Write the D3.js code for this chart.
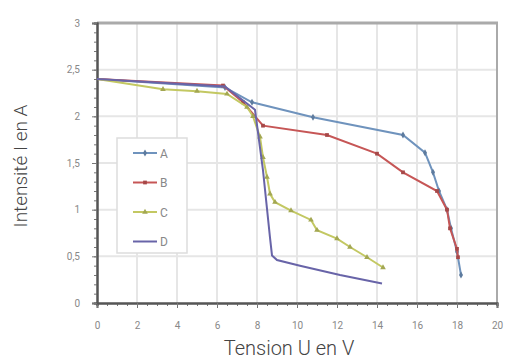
<!DOCTYPE html>
<html>
<head>
  <title>Caractéristiques I(U)</title>
  <style>
    body { margin: 0; background: #fff; }
    svg text { font-family: Roboto, "Liberation Sans", sans-serif; }
  </style>
</head>
<body>
<svg width="508" height="363" class="svg-chart"></svg>
<script src="https://cdnjs.cloudflare.com/ajax/libs/d3/7.8.5/d3.min.js"></script>
<script type="text/javascript">
  // values (U in V, I in A)
  var seriesNames = ['A', 'B', 'C', 'D']
  var colors = ['#6f93bd', '#c65656', '#c3c862', '#6864a8']

  var uA = [0, 6.4, 7.75, 10.8, 15.3, 16.4, 16.8, 17.1, 17.5, 17.7, 18.0, 18.2]
  var iA = [2.4, 2.31, 2.15, 1.99, 1.8, 1.61, 1.4, 1.2, 1.0, 0.8, 0.55, 0.3]

  var uB = [0, 6.3, 7.3, 8.3, 11.5, 14.0, 15.3, 17.0, 17.5, 17.65, 18.0, 18.05]
  var iB = [2.4, 2.33, 2.15, 1.9, 1.8, 1.6, 1.4, 1.2, 1.0, 0.8, 0.58, 0.49]

  var uC = [0, 3.3, 5.0, 6.5, 7.5, 7.8, 8.15, 8.3, 8.5, 8.65, 8.9, 9.7, 10.7, 11.0, 12.0, 12.65, 13.5, 14.3]
  var iC = [2.4, 2.29, 2.27, 2.24, 2.1, 2.0, 1.78, 1.56, 1.35, 1.17, 1.08, 0.99, 0.89, 0.78, 0.69, 0.6, 0.49, 0.38]

  var uD = [0, 6.4, 7.9, 8.3, 8.65, 8.75, 9.0, 10.15, 12.15, 14.25]
  var iD = [2.4, 2.32, 2.07, 1.42, 0.7, 0.51, 0.46, 0.4, 0.3, 0.21]

  var xTicks = [0, 2, 4, 6, 8, 10, 12, 14, 16, 18, 20]
  var yTicks = [0, 0.5, 1, 1.5, 2, 2.5, 3]

  var series = [
    {name: seriesNames[0], u: uA, i: iA, marker: 'diamond'},
    {name: seriesNames[1], u: uB, i: iB, marker: 'square'},
    {name: seriesNames[2], u: uC, i: iC, marker: 'triangle'},
    {name: seriesNames[3], u: uD, i: iD, marker: null}
  ]

  var svg = d3.select('.svg-chart')
  var plotLeft = 97, plotRight = 497, plotTop = 23, plotBottom = 303

  var x = d3.scaleLinear().domain([0, 20]).range([plotLeft, plotRight])
  var y = d3.scaleLinear().domain([0, 3]).range([plotBottom, plotTop])

  // grid
  svg.append('g').selectAll('line').data(xTicks.slice(1))
    .enter().append('line')
    .attr('x1', function(d){ return x(d) }).attr('x2', function(d){ return x(d) })
    .attr('y1', plotTop).attr('y2', plotBottom)
    .attr('stroke', '#e6e6e6').attr('stroke-width', 2)
  svg.append('g').selectAll('line').data(yTicks.slice(1))
    .enter().append('line')
    .attr('y1', function(d){ return y(d) }).attr('y2', function(d){ return y(d) })
    .attr('x1', plotLeft).attr('x2', plotRight)
    .attr('stroke', '#e6e6e6').attr('stroke-width', 2)

  // frame top / right
  svg.append('line').attr('x1', plotLeft).attr('x2', plotRight + 1).attr('y1', plotTop).attr('y2', plotTop)
    .attr('stroke', '#aaa').attr('stroke-width', 3)
  svg.append('line').attr('x1', plotRight).attr('x2', plotRight).attr('y1', plotTop).attr('y2', plotBottom)
    .attr('stroke', '#aaa').attr('stroke-width', 2)

  // axes with minor ticks
  var xMinor = d3.axisBottom(x).tickValues(d3.range(0, 20.01, 0.5)).tickSize(3).tickFormat('')
  var yMinor = d3.axisLeft(y).tickValues(d3.range(0, 3.01, 0.1)).tickSize(3).tickFormat('')
  var xAxis = d3.axisBottom(x).tickValues(xTicks).tickSize(5).tickPadding(14)
  var yAxis = d3.axisLeft(y).tickValues(yTicks).tickSize(5).tickPadding(12)
    .tickFormat(function(d){ return String(d).replace('.', ',') })

  svg.append('g').attr('transform', 'translate(0,' + plotBottom + ')').call(xMinor)
  svg.append('g').attr('transform', 'translate(' + plotLeft + ',0)').call(yMinor)
  var gx = svg.append('g').attr('transform', 'translate(0,' + plotBottom + ')').call(xAxis)
  var gy = svg.append('g').attr('transform', 'translate(' + plotLeft + ',0)').call(yAxis)

  svg.selectAll('.domain').attr('stroke', '#555').attr('stroke-width', 2)
  svg.selectAll('.tick line').attr('stroke', '#777')
  gx.selectAll('text').attr('fill', '#888').style('font-size', '10px')
  gy.selectAll('text').attr('fill', '#888').style('font-size', '10px')

  // lines
  var line = d3.line()
    .x(function(d){ return x(d[0]) })
    .y(function(d){ return y(d[1]) })

  var symbolType = {diamond: d3.symbolDiamond, square: d3.symbolSquare, triangle: d3.symbolTriangle}

  series.forEach(function(s, k){
    var pts = s.u.map(function(u, j){ return [u, s.i[j]] })
    svg.append('path').datum(pts)
      .attr('d', line)
      .attr('fill', 'none')
      .attr('stroke', colors[k])
      .attr('stroke-width', 2)
    if (s.marker) {
      svg.append('g').selectAll('path').data(pts.slice(1))
        .enter().append('path')
        .attr('transform', function(d){ return 'translate(' + x(d[0]) + ',' + y(d[1]) + ')' })
        .attr('d', d3.symbol().type(symbolType[s.marker]).size(14))
        .attr('fill', d3.color(colors[k]).darker(0.5))
    }
  })

  // legend
  var lg = svg.append('g')
  lg.append('rect').attr('x', 117).attr('y', 138).attr('width', 70).attr('height', 115)
    .attr('fill', '#fff').attr('stroke', '#ddd').attr('stroke-width', 1.5)
  series.forEach(function(s, k){
    var ly = 153 + k * 29.5
    lg.append('line').attr('x1', 133).attr('x2', 157).attr('y1', ly).attr('y2', ly)
      .attr('stroke', colors[k]).attr('stroke-width', 2)
    if (s.marker) {
      lg.append('path').attr('transform', 'translate(145,' + ly + ')')
        .attr('d', d3.symbol().type(symbolType[s.marker]).size(14))
        .attr('fill', d3.color(colors[k]).darker(0.5))
    }
    lg.append('text').attr('x', 160).attr('y', ly + 4.5).text(s.name)
      .attr('fill', '#888').style('font-size', '12px')
  })

  // axis titles
  svg.append('text').attr('x', 289).attr('y', 355).attr('text-anchor', 'middle')
    .text('Tension U en V').attr('fill', '#444')
    .style('font-size', '20px').style('font-weight', 300)
  svg.append('text').attr('transform', 'translate(27,166) rotate(-90)').attr('text-anchor', 'middle')
    .text('Intensité I en A').attr('fill', '#444')
    .style('font-size', '19px').style('font-weight', 300)
</script>
</body>
</html>
